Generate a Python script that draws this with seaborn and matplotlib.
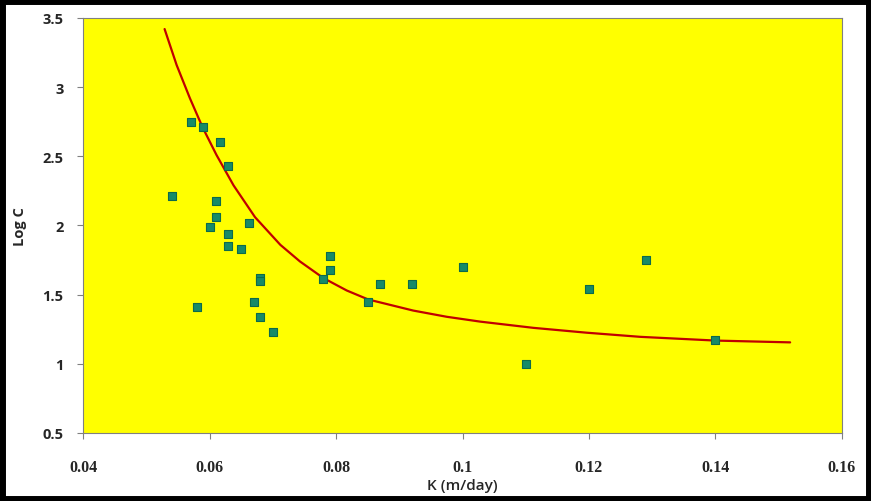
import matplotlib
matplotlib.use("Agg")
import matplotlib.pyplot as plt
from matplotlib.patches import Rectangle
import seaborn as sns
import pandas as pd

# Measured hydraulic conductivity vs. log concentration
k_values = [0.054, 0.057, 0.0589, 0.0616, 0.063, 0.061, 0.061, 0.060, 0.063,
            0.063, 0.065, 0.0662, 0.068, 0.068, 0.067, 0.068, 0.070, 0.058,
            0.079, 0.079, 0.078, 0.087, 0.092, 0.085, 0.100, 0.120, 0.129,
            0.140, 0.110]
logc_values = [2.21, 2.75, 2.71, 2.60, 2.43, 2.18, 2.06, 1.99, 1.94,
               1.85, 1.83, 2.02, 1.62, 1.60, 1.45, 1.34, 1.23, 1.41,
               1.78, 1.68, 1.61, 1.58, 1.58, 1.45, 1.70, 1.54, 1.75,
               1.17, 1.00]

# Fitted trend curve
curve_k = [0.0529, 0.0548, 0.0569, 0.0589, 0.0611, 0.0638, 0.0672, 0.0712,
           0.0743, 0.0780, 0.0817, 0.0851, 0.0922, 0.0975, 0.1028, 0.1112,
           0.1196, 0.1281, 0.1400, 0.1518]
curve_logc = [3.42, 3.16, 2.92, 2.71, 2.51, 2.29, 2.06, 1.86,
              1.74, 1.62, 1.53, 1.465, 1.385, 1.34, 1.305, 1.26,
              1.225, 1.195, 1.168, 1.155]

x_ticks = [0.04, 0.06, 0.08, 0.1, 0.12, 0.14, 0.16]
x_tick_labels = ["0.04", "0.06", "0.08", "0.1", "0.12", "0.14", "0.16"]
y_ticks = [0.5, 1, 1.5, 2, 2.5, 3, 3.5]
y_tick_labels = ["0.5", "1", "1.5", "2", "2.5", "3", "3.5"]

points = pd.DataFrame({"K": k_values, "LogC": logc_values})
curve = pd.DataFrame({"K": curve_k, "LogC": curve_logc})

sns.set_style("white")
fig = plt.figure(figsize=(8.71, 5.02), dpi=100)
ax = fig.add_axes([0.0953, 0.1355, 0.9667 - 0.0953, 0.9622 - 0.1355])
ax.set_facecolor("#FFFF00")

sns.lineplot(data=curve, x="K", y="LogC", ax=ax, color="#C00000",
             linewidth=1.6, sort=False, zorder=2)
sns.scatterplot(data=points, x="K", y="LogC", ax=ax, marker="s", s=30,
                color="#178a68", edgecolor="#0c6a4c", linewidth=0.8, zorder=3)

ax.set_xlim(0.04, 0.16)
ax.set_ylim(0.5, 3.5)
ax.set_xticks(x_ticks)
ax.set_xticklabels(x_tick_labels, fontfamily="Liberation Serif",
                   fontweight="bold", fontsize=11.5)
ax.set_yticks(y_ticks)
ax.set_yticklabels(y_tick_labels, fontfamily="Open Sans",
                   fontweight="bold", fontsize=10.5)
ax.tick_params(axis="x", direction="out", length=4, width=0.8,
               color="#808080", pad=15, bottom=True)
ax.tick_params(axis="y", direction="out", length=4, width=0.8,
               color="#808080", pad=10, left=True)

for spine in ax.spines.values():
    spine.set_visible(True)
    spine.set_color("#808080")
    spine.set_linewidth(0.8)

ax.set_xlabel("K (m/day)", fontfamily="Open Sans", fontweight="semibold",
              fontsize=11, labelpad=2)
ax.set_ylabel("Log C", fontfamily="Open Sans", fontweight="bold",
              fontsize=10.5, labelpad=11)

# Black frame around the whole figure
fig.patches.append(Rectangle((0.0025, 0.004), 0.995, 0.992,
                             transform=fig.transFigure, fill=False,
                             edgecolor="black", linewidth=5, zorder=10))

fig.savefig("out.png", dpi=100, facecolor="white")
